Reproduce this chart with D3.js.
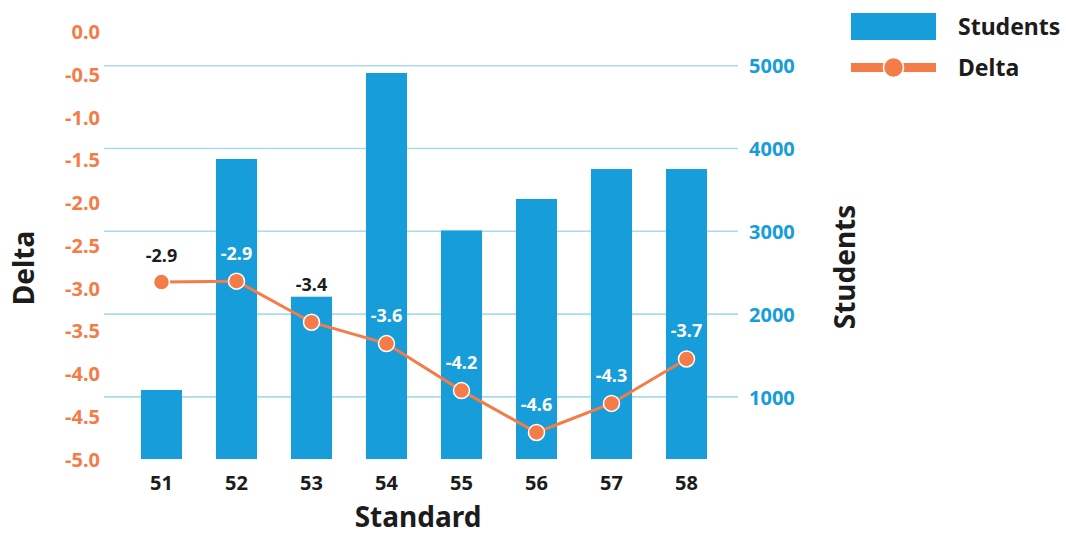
<!DOCTYPE html>
<html>
<head>
<meta charset="utf-8">
<script src="https://cdn.jsdelivr.net/npm/d3@7"></script>
<style>
  html, body { margin: 0; padding: 0; background: #fff; }
  svg { display: block; font-family: "Noto Sans", "Open Sans", sans-serif; }
</style>
</head>
<body>
<svg id="chart" width="1066" height="535"></svg>
<script>
const categories = ["51", "52", "53", "54", "55", "56", "57", "58"];
const students = [1083, 3873, 2210, 4912, 3010, 3390, 3752, 3752];
const delta = [-2.93, -2.92, -3.40, -3.65, -4.20, -4.69, -4.35, -3.83];
const deltaLabels = ["-2.9", "-2.9", "-3.4", "-3.6", "-4.2", "-4.6", "-4.3", "-3.7"];
const deltaTicks = [0, -0.5, -1, -1.5, -2, -2.5, -3, -3.5, -4, -4.5, -5];
const studentTicks = [1000, 2000, 3000, 4000, 5000];

const BLUE = "#179dd9";
const ORANGE = "#f47c48";
const GRID = "#a9dceb";
const DARK = "#1c1c1c";
const FONT = "'Noto Sans', 'Open Sans', sans-serif";

const svg = d3.select("#chart");

const x = d3.scaleBand().domain(categories).range([107, 741]).padding(0.453);
const yDelta = d3.scaleLinear().domain([-5, 0]).range([459, 31.5]);
const yStud = d3.scaleLinear().domain([250, 5413]).range([459, 31.5]);

// gridlines
svg.append("g").selectAll("line").data(studentTicks).join("line")
  .attr("x1", 104).attr("x2", 738)
  .attr("y1", d => yStud(d)).attr("y2", d => yStud(d))
  .attr("stroke", GRID).attr("stroke-width", 1.6);

// bars
svg.append("g").selectAll("rect").data(categories).join("rect")
  .attr("x", d => x(d))
  .attr("width", x.bandwidth())
  .attr("y", (d, i) => yStud(students[i]))
  .attr("height", (d, i) => yStud.range()[0] - yStud(students[i]))
  .attr("fill", BLUE);

// left axis
const leftAxis = d3.axisLeft(yDelta).tickValues(deltaTicks).tickSize(0).tickPadding(0)
  .tickFormat(d => d3.format(".1f")(d).replace("\u2212", "-"));
const gl = svg.append("g").attr("transform", "translate(100,0)").call(leftAxis);
gl.select(".domain").remove();
gl.selectAll("text").attr("fill", ORANGE).attr("font-size", 20).attr("font-weight", 700)
  .attr("font-family", FONT).attr("dy", "0.36em");

// right axis
const rightAxis = d3.axisRight(yStud).tickValues(studentTicks).tickFormat(d3.format("d")).tickSize(0).tickPadding(0);
const gr = svg.append("g").attr("transform", "translate(749,0)").call(rightAxis);
gr.select(".domain").remove();
gr.selectAll("text").attr("fill", BLUE).attr("font-size", 20).attr("font-weight", 700)
  .attr("font-family", FONT).attr("dy", "0.36em");

// bottom axis
const bottomAxis = d3.axisBottom(x).tickSize(0).tickPadding(0);
const gb = svg.append("g").attr("transform", "translate(0,483)").call(bottomAxis);
gb.select(".domain").remove();
gb.selectAll("text").attr("fill", DARK).attr("font-size", 20).attr("font-weight", 700)
  .attr("font-family", FONT).attr("y", 0).attr("dy", "0.36em");

// axis titles
svg.append("text").attr("x", 418).attr("y", 527).attr("text-anchor", "middle")
  .attr("font-size", 28).attr("font-weight", 700).attr("fill", DARK).text("Standard");
svg.append("text").attr("transform", "translate(34,268) rotate(-90)").attr("text-anchor", "middle")
  .attr("font-size", 28).attr("font-weight", 700).attr("fill", DARK).text("Delta");
svg.append("text").attr("transform", "translate(855,267) rotate(-90)").attr("text-anchor", "middle")
  .attr("font-size", 28).attr("font-weight", 700).attr("fill", DARK).text("Students");

// line
const cx = (d, i) => x(categories[i]) + x.bandwidth() / 2;
const line = d3.line().x((d, i) => cx(d, i)).y(d => yDelta(d));
svg.append("path").datum(delta).attr("d", line)
  .attr("fill", "none").attr("stroke", ORANGE).attr("stroke-width", 3);

svg.append("g").selectAll("circle").data(delta).join("circle")
  .attr("cx", cx).attr("cy", d => yDelta(d)).attr("r", 8)
  .attr("fill", ORANGE).attr("stroke", "#fff").attr("stroke-width", 1.5);

// point labels
svg.append("g").selectAll("text").data(delta).join("text")
  .each(function(d, i) {
    const py = yDelta(d);
    const barTop = yStud(students[i]);
    let ly = py - 28;
    let inside = true;
    if (ly <= barTop - 12) { ly = py - 26; inside = false; }
    else if (ly < barTop + 12) { ly = barTop - 12; inside = false; }
    d3.select(this)
      .attr("x", cx(d, i)).attr("y", ly).attr("dy", "0.36em")
      .attr("text-anchor", "middle")
      .attr("font-size", 18).attr("font-weight", 700)
      .attr("fill", inside ? "#ffffff" : DARK)
      .text(deltaLabels[i]);
  });

// legend
const lg = svg.append("g");
lg.append("rect").attr("x", 851).attr("y", 13).attr("width", 85).attr("height", 27).attr("fill", BLUE);
lg.append("text").attr("x", 958).attr("y", 27).attr("dy", "0.36em")
  .attr("font-size", 23).attr("font-weight", 700).attr("fill", DARK).text("Students");
lg.append("line").attr("x1", 851).attr("x2", 936).attr("y1", 67.5).attr("y2", 67.5)
  .attr("stroke", ORANGE).attr("stroke-width", 9);
lg.append("circle").attr("cx", 893.5).attr("cy", 67.5).attr("r", 10)
  .attr("fill", ORANGE).attr("stroke", "#fff").attr("stroke-width", 1.5);
lg.append("text").attr("x", 958).attr("y", 68).attr("dy", "0.36em")
  .attr("font-size", 23).attr("font-weight", 700).attr("fill", DARK).text("Delta");
</script>
</body>
</html>
